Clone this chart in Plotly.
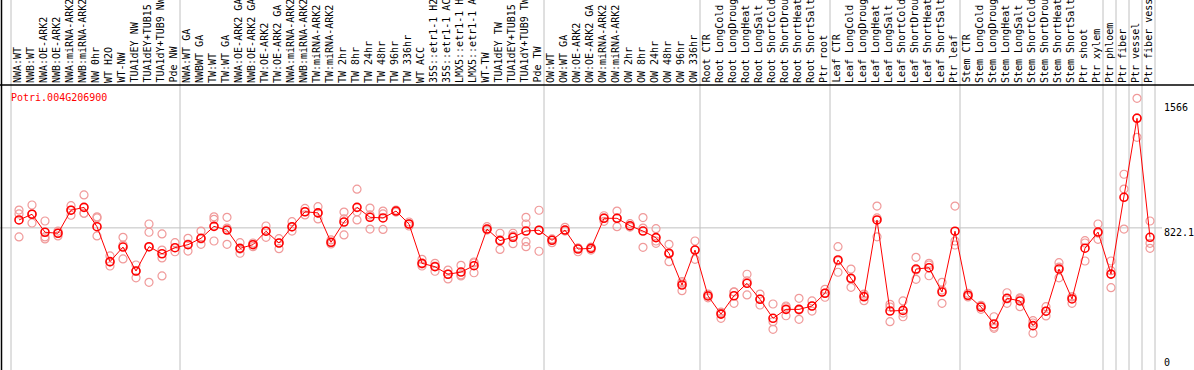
import plotly.graph_objects as go

# ---------------- data ----------------
labels = [
    "NWA:WT", "NWB:WT", "NWA:OE-ARK2", "NWB:OE-ARK2", "NWA:miRNA-ARK2", "NWB:miRNA-ARK2",
    "NW 0hr", "WT H2O", "WT-NW", "TUA1dEY NW", "TUA1dEY+TUB15 NW", "TUA1dY+TUB9 NW", "Pde NW",
    "NWA:WT GA", "NWBWT GA", "TW:WT", "TW:WT GA", "NWA:OE-ARK2 GA", "NWB:OE-ARK2 GA",
    "TW:OE-ARK2", "TW:OE-ARK2 GA", "NWA:miRNA-ARK2", "NWB:miRNA-ARK2", "TW:miRNA-ARK2",
    "TW:miRNA-ARK2", "TW 2hr", "TW 8hr", "TW 24hr", "TW 48hr", "TW 96hr", "TW 336hr", "WT ACC",
    "35S::etr1-1 H2O", "35S::etr1-1 ACC", "LMX5::etr1-1 H2O", "LMX5::etr1-1 ACC", "WT-TW",
    "TUA1dEY TW", "TUA1dEY+TUB15 TW", "TUA1dY+TUB9 TW", "Pde TW",
    "OW:WT", "OW:WT GA", "OW:OE-ARK2", "OW:OE-ARK2 GA", "OW:miRNA-ARK2", "OW:miRNA-ARK2",
    "OW 2hr", "OW 8hr", "OW 24hr", "OW 48hr", "OW 96hr", "OW 336hr",
    "Root CTR", "Root LongCold", "Root LongDrought", "Root LongHeat", "Root LongSalt",
    "Root ShortCold", "Root ShortDrought", "Root ShortHeat", "Root ShortSalt", "Ptr root",
    "Leaf CTR", "Leaf LongCold", "Leaf LongDrought", "Leaf LongHeat", "Leaf LongSalt",
    "Leaf ShortCold", "Leaf ShortDrought", "Leaf ShortHeat", "Leaf ShortSalt", "Ptr leaf",
    "Stem CTR", "Stem LongCold", "Stem LongDrought", "Stem LongHeat", "Stem LongSalt",
    "Stem ShortCold", "Stem ShortDrought", "Stem ShortHeat", "Stem ShortSalt", "Ptr shoot",
    "Ptr xylem", "Ptr phloem", "Ptr fiber", "Ptr vessel", "Ptr fiber vessel",
]

# index of the first sample of each group (plus the end)
group_starts = [0, 13, 41, 53, 63, 73, 84, 85, 86, 87, 88]

means = [
    869, 903, 796, 790, 927, 944, 829, 621, 708, 565,
    710, 668, 704, 722, 760, 831, 809, 700, 722, 802,
    732, 829, 918, 911, 736, 857, 944, 885, 881, 922,
    845, 611, 591, 546, 559, 597, 815, 746, 766, 803,
    808, 748, 809, 696, 700, 879, 879, 835, 803, 764,
    671, 482, 690, 417, 309, 418, 492, 397, 284, 337,
    337, 357, 433, 631, 522, 412, 869, 327, 331, 577,
    585, 440, 802, 421, 351, 250, 403, 387, 240, 326,
    577, 399, 701, 797, 547, 1004, 1474, 766,
]

rep_a = [
    928, 958, 863, 803, 954, 1018, 888, 655, 766, 601,
    845, 786, 734, 760, 803, 888, 885, 734, 710, 833,
    758, 859, 938, 948, 750, 916, 1052, 940, 922, 928,
    857, 635, 611, 571, 599, 619, 829, 790, 790, 885,
    927, 734, 825, 680, 700, 894, 922, 847, 883, 817,
    724, 502, 744, 406, 284, 442, 546, 428, 369, 357,
    403, 387, 456, 710, 577, 389, 952, 367, 387, 647,
    611, 498, 952, 433, 361, 293, 436, 406, 270, 353,
    615, 412, 746, 845, 625, 1141, 1593, 863,
]
rep_b = [
    905, 905, 768, 791, 928, 909, 881, 595, 637, 525,
    796, 690, 680, 726, 724, 873, 724, 671, 732, 766,
    698, 803, 899, 875, 732, 780, 918, 815, 813, 916,
    845, 595, 564, 518, 536, 555, 815, 694, 728, 845,
    683, 750, 803, 702, 708, 861, 829, 833, 706, 730,
    621, 448, 635, 423, 321, 373, 423, 363, 264, 299,
    278, 327, 409, 558, 468, 428, 769, 264, 293, 516,
    537, 373, 720, 411, 337, 224, 373, 353, 195, 298,
    525, 373, 625, 754, 567, 1053, 1361, 730,
]
rep_c = [
    768, 851, 756, 774, 897, 909, 774, 619, 720, 565,
    498, 643, None, 684, 756, 744, 821, 696, 726, 803,
    732, 827, 918, 910, 726, 875, 869, 899, 905, 922,
    833, 607, 595, 547, 542, 613, 809, 750, 774, 740,
    809, 756, 809, 702, 690, 881, 881, 827, 821, 744,
    666, 494, 690, 428, 315, 440, 506, 399, 218, 351,
    333, 357, 434, 625, 518, 417, 881, 351, 315, 571,
    601, 452, 744, 417, 351, 232, 399, 399, 256, 327,
    589, 411, 732, 791, 466, 815, 1476, 700,
]
rep_d = [None] * 88
rep_d[10] = 708
rep_d[11] = 536
rep_d[39] = 710

title_text = "Potri.004G206900"
ytick_vals = [1566, 822.1, 0]
ytick_text = ["1566", "822.1", "0"]
grid_val = 822.1

# ---------------- layout constants ----------------
W, H = 1194, 370
TOP = 85
X_FIRST_PX, X_STEP_PX = 19.0, 13.0
XMIN = -X_FIRST_PX / X_STEP_PX
XMAX = (W - X_FIRST_PX) / X_STEP_PX
UNITS_PER_PX = 5.951
Y0_PX = 366.0
YMIN = (Y0_PX - H) * UNITS_PER_PX
YMAX = (Y0_PX - TOP) * UNITS_PER_PX

MONO = "DejaVu Sans Mono"
REP_COLOR = "#f09a9a"
RED = "#ff0000"
GRID = "#c0c0c0"


def xpaper(xval):
    return (xval - XMIN) / (XMAX - XMIN)


def ypaper_px(px):
    return (H - px) / (H - TOP)


xs = list(range(len(labels)))

fig = go.Figure()
for reps in (rep_a, rep_b, rep_c, rep_d):
    fig.add_trace(go.Scatter(
        x=xs, y=reps, mode="markers", showlegend=False, hoverinfo="skip",
        cliponaxis=False,
        marker=dict(symbol="circle-open", size=8, color=REP_COLOR, line=dict(width=1.2)),
    ))
fig.add_trace(go.Scatter(
    x=xs, y=means, mode="lines+markers", showlegend=False, cliponaxis=False,
    line=dict(color=RED, width=1),
    marker=dict(symbol="circle-open", size=8, color=RED, line=dict(width=1.6)),
))

shapes = []
top_paper = H / (H - TOP)
for g in group_starts:
    xp = xpaper(g - 8.0 / X_STEP_PX)
    shapes.append(dict(type="line", xref="paper", yref="paper", x0=xp, x1=xp,
                       y0=0, y1=top_paper, line=dict(color=GRID, width=1), layer="below"))
# horizontal reference gridline
shapes.append(dict(type="line", xref="paper", yref="y", x0=0, x1=1162 / W,
                   y0=grid_val, y1=grid_val, line=dict(color=GRID, width=1), layer="below"))
# header bottom border and left border
shapes.append(dict(type="line", xref="paper", yref="paper", x0=0, x1=1, y0=1, y1=1,
                   line=dict(color="black", width=1.5)))
shapes.append(dict(type="line", xref="paper", yref="paper", x0=1.5 / W, x1=1.5 / W,
                   y0=0, y1=top_paper, line=dict(color="black", width=1.5)))

annotations = []
for i, lab in enumerate(labels):
    annotations.append(dict(
        x=i - 2.0 / X_STEP_PX, y=1, xref="x", yref="paper", text=lab,
        textangle=-90, xanchor="center", yanchor="bottom", showarrow=False,
        yshift=1, borderpad=0,
        font=dict(family=MONO, size=10, color="black"),
    ))
annotations.append(dict(
    x=10 / W, y=ypaper_px(97), xref="paper", yref="paper", text=title_text,
    xanchor="left", yanchor="middle", showarrow=False, borderpad=0,
    font=dict(family=MONO, size=10, color=RED),
))
for v, t in zip(ytick_vals, ytick_text):
    py = Y0_PX - v / UNITS_PER_PX + 5
    py = min(py, 362)
    annotations.append(dict(
        x=1163 / W, y=ypaper_px(py), xref="paper", yref="paper", text=t,
        xanchor="left", yanchor="middle", showarrow=False, borderpad=0,
        font=dict(family=MONO, size=10, color="black"),
    ))

fig.update_layout(
    width=W, height=H,
    margin=dict(l=0, r=0, t=TOP, b=0, pad=0),
    paper_bgcolor="white", plot_bgcolor="white",
    xaxis=dict(range=[XMIN, XMAX], visible=False, fixedrange=True),
    yaxis=dict(range=[YMIN, YMAX], visible=False, fixedrange=True),
    shapes=shapes, annotations=annotations, showlegend=False,
)

fig.write_html(
    "out.html",
    config={"displayModeBar": False},
    post_script="document.body.style.margin='0';document.body.style.padding='0';"
                "document.body.style.overflow='hidden';",
)
